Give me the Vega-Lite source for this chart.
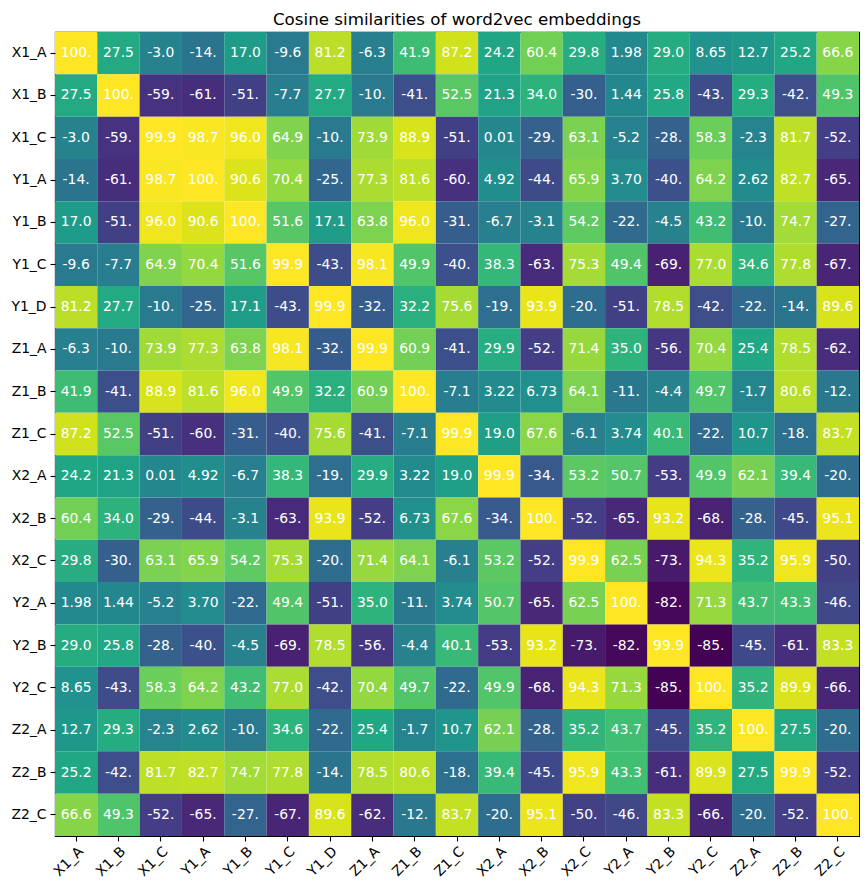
{
"$schema":"https://vega.github.io/schema/vega-lite/v6.json",
"width":804,"height":804,
"autosize":{"type":"none"},
"padding":{"left":55,"top":32,"right":9,"bottom":54},
"background":"white",
"title":{"text":"Cosine similarities of word2vec embeddings","font":"DejaVu Sans","fontSize":16.7,"fontWeight":"normal","color":"black","anchor":"middle","baseline":"alphabetic","frame":"group","offset":7,"dy":17},
"config":{"view":{"stroke":"black","strokeWidth":1.1},"axis":{"labelFont":"DejaVu Sans","labelFontSize":13.9,"labelColor":"black","tickColor":"black","tickSize":5,"tickWidth":1.1,"domain":false,"grid":false,"title":null,"labelPadding":4}},
"data":{"values":[
{"r":"X1_A","c":"X1_A","v":100,"t":"100."},{"r":"X1_A","c":"X1_B","v":27.5,"t":"27.5"},{"r":"X1_A","c":"X1_C","v":-3,"t":"-3.0"},{"r":"X1_A","c":"Y1_A","v":-14,"t":"-14."},{"r":"X1_A","c":"Y1_B","v":17,"t":"17.0"},{"r":"X1_A","c":"Y1_C","v":-9.6,"t":"-9.6"},{"r":"X1_A","c":"Y1_D","v":81.2,"t":"81.2"},{"r":"X1_A","c":"Z1_A","v":-6.3,"t":"-6.3"},{"r":"X1_A","c":"Z1_B","v":41.9,"t":"41.9"},{"r":"X1_A","c":"Z1_C","v":87.2,"t":"87.2"},{"r":"X1_A","c":"X2_A","v":24.2,"t":"24.2"},{"r":"X1_A","c":"X2_B","v":60.4,"t":"60.4"},{"r":"X1_A","c":"X2_C","v":29.8,"t":"29.8"},{"r":"X1_A","c":"Y2_A","v":1.98,"t":"1.98"},{"r":"X1_A","c":"Y2_B","v":29,"t":"29.0"},{"r":"X1_A","c":"Y2_C","v":8.65,"t":"8.65"},{"r":"X1_A","c":"Z2_A","v":12.7,"t":"12.7"},{"r":"X1_A","c":"Z2_B","v":25.2,"t":"25.2"},{"r":"X1_A","c":"Z2_C","v":66.6,"t":"66.6"},
{"r":"X1_B","c":"X1_A","v":27.5,"t":"27.5"},{"r":"X1_B","c":"X1_B","v":100,"t":"100."},{"r":"X1_B","c":"X1_C","v":-59,"t":"-59."},{"r":"X1_B","c":"Y1_A","v":-61,"t":"-61."},{"r":"X1_B","c":"Y1_B","v":-51,"t":"-51."},{"r":"X1_B","c":"Y1_C","v":-7.7,"t":"-7.7"},{"r":"X1_B","c":"Y1_D","v":27.7,"t":"27.7"},{"r":"X1_B","c":"Z1_A","v":-10,"t":"-10."},{"r":"X1_B","c":"Z1_B","v":-41,"t":"-41."},{"r":"X1_B","c":"Z1_C","v":52.5,"t":"52.5"},{"r":"X1_B","c":"X2_A","v":21.3,"t":"21.3"},{"r":"X1_B","c":"X2_B","v":34,"t":"34.0"},{"r":"X1_B","c":"X2_C","v":-30,"t":"-30."},{"r":"X1_B","c":"Y2_A","v":1.44,"t":"1.44"},{"r":"X1_B","c":"Y2_B","v":25.8,"t":"25.8"},{"r":"X1_B","c":"Y2_C","v":-43,"t":"-43."},{"r":"X1_B","c":"Z2_A","v":29.3,"t":"29.3"},{"r":"X1_B","c":"Z2_B","v":-42,"t":"-42."},{"r":"X1_B","c":"Z2_C","v":49.3,"t":"49.3"},
{"r":"X1_C","c":"X1_A","v":-3,"t":"-3.0"},{"r":"X1_C","c":"X1_B","v":-59,"t":"-59."},{"r":"X1_C","c":"X1_C","v":99.9,"t":"99.9"},{"r":"X1_C","c":"Y1_A","v":98.7,"t":"98.7"},{"r":"X1_C","c":"Y1_B","v":96,"t":"96.0"},{"r":"X1_C","c":"Y1_C","v":64.9,"t":"64.9"},{"r":"X1_C","c":"Y1_D","v":-10,"t":"-10."},{"r":"X1_C","c":"Z1_A","v":73.9,"t":"73.9"},{"r":"X1_C","c":"Z1_B","v":88.9,"t":"88.9"},{"r":"X1_C","c":"Z1_C","v":-51,"t":"-51."},{"r":"X1_C","c":"X2_A","v":0.01,"t":"0.01"},{"r":"X1_C","c":"X2_B","v":-29,"t":"-29."},{"r":"X1_C","c":"X2_C","v":63.1,"t":"63.1"},{"r":"X1_C","c":"Y2_A","v":-5.2,"t":"-5.2"},{"r":"X1_C","c":"Y2_B","v":-28,"t":"-28."},{"r":"X1_C","c":"Y2_C","v":58.3,"t":"58.3"},{"r":"X1_C","c":"Z2_A","v":-2.3,"t":"-2.3"},{"r":"X1_C","c":"Z2_B","v":81.7,"t":"81.7"},{"r":"X1_C","c":"Z2_C","v":-52,"t":"-52."},
{"r":"Y1_A","c":"X1_A","v":-14,"t":"-14."},{"r":"Y1_A","c":"X1_B","v":-61,"t":"-61."},{"r":"Y1_A","c":"X1_C","v":98.7,"t":"98.7"},{"r":"Y1_A","c":"Y1_A","v":100,"t":"100."},{"r":"Y1_A","c":"Y1_B","v":90.6,"t":"90.6"},{"r":"Y1_A","c":"Y1_C","v":70.4,"t":"70.4"},{"r":"Y1_A","c":"Y1_D","v":-25,"t":"-25."},{"r":"Y1_A","c":"Z1_A","v":77.3,"t":"77.3"},{"r":"Y1_A","c":"Z1_B","v":81.6,"t":"81.6"},{"r":"Y1_A","c":"Z1_C","v":-60,"t":"-60."},{"r":"Y1_A","c":"X2_A","v":4.92,"t":"4.92"},{"r":"Y1_A","c":"X2_B","v":-44,"t":"-44."},{"r":"Y1_A","c":"X2_C","v":65.9,"t":"65.9"},{"r":"Y1_A","c":"Y2_A","v":3.7,"t":"3.70"},{"r":"Y1_A","c":"Y2_B","v":-40,"t":"-40."},{"r":"Y1_A","c":"Y2_C","v":64.2,"t":"64.2"},{"r":"Y1_A","c":"Z2_A","v":2.62,"t":"2.62"},{"r":"Y1_A","c":"Z2_B","v":82.7,"t":"82.7"},{"r":"Y1_A","c":"Z2_C","v":-65,"t":"-65."},
{"r":"Y1_B","c":"X1_A","v":17,"t":"17.0"},{"r":"Y1_B","c":"X1_B","v":-51,"t":"-51."},{"r":"Y1_B","c":"X1_C","v":96,"t":"96.0"},{"r":"Y1_B","c":"Y1_A","v":90.6,"t":"90.6"},{"r":"Y1_B","c":"Y1_B","v":100,"t":"100."},{"r":"Y1_B","c":"Y1_C","v":51.6,"t":"51.6"},{"r":"Y1_B","c":"Y1_D","v":17.1,"t":"17.1"},{"r":"Y1_B","c":"Z1_A","v":63.8,"t":"63.8"},{"r":"Y1_B","c":"Z1_B","v":96,"t":"96.0"},{"r":"Y1_B","c":"Z1_C","v":-31,"t":"-31."},{"r":"Y1_B","c":"X2_A","v":-6.7,"t":"-6.7"},{"r":"Y1_B","c":"X2_B","v":-3.1,"t":"-3.1"},{"r":"Y1_B","c":"X2_C","v":54.2,"t":"54.2"},{"r":"Y1_B","c":"Y2_A","v":-22,"t":"-22."},{"r":"Y1_B","c":"Y2_B","v":-4.5,"t":"-4.5"},{"r":"Y1_B","c":"Y2_C","v":43.2,"t":"43.2"},{"r":"Y1_B","c":"Z2_A","v":-10,"t":"-10."},{"r":"Y1_B","c":"Z2_B","v":74.7,"t":"74.7"},{"r":"Y1_B","c":"Z2_C","v":-27,"t":"-27."},
{"r":"Y1_C","c":"X1_A","v":-9.6,"t":"-9.6"},{"r":"Y1_C","c":"X1_B","v":-7.7,"t":"-7.7"},{"r":"Y1_C","c":"X1_C","v":64.9,"t":"64.9"},{"r":"Y1_C","c":"Y1_A","v":70.4,"t":"70.4"},{"r":"Y1_C","c":"Y1_B","v":51.6,"t":"51.6"},{"r":"Y1_C","c":"Y1_C","v":99.9,"t":"99.9"},{"r":"Y1_C","c":"Y1_D","v":-43,"t":"-43."},{"r":"Y1_C","c":"Z1_A","v":98.1,"t":"98.1"},{"r":"Y1_C","c":"Z1_B","v":49.9,"t":"49.9"},{"r":"Y1_C","c":"Z1_C","v":-40,"t":"-40."},{"r":"Y1_C","c":"X2_A","v":38.3,"t":"38.3"},{"r":"Y1_C","c":"X2_B","v":-63,"t":"-63."},{"r":"Y1_C","c":"X2_C","v":75.3,"t":"75.3"},{"r":"Y1_C","c":"Y2_A","v":49.4,"t":"49.4"},{"r":"Y1_C","c":"Y2_B","v":-69,"t":"-69."},{"r":"Y1_C","c":"Y2_C","v":77,"t":"77.0"},{"r":"Y1_C","c":"Z2_A","v":34.6,"t":"34.6"},{"r":"Y1_C","c":"Z2_B","v":77.8,"t":"77.8"},{"r":"Y1_C","c":"Z2_C","v":-67,"t":"-67."},
{"r":"Y1_D","c":"X1_A","v":81.2,"t":"81.2"},{"r":"Y1_D","c":"X1_B","v":27.7,"t":"27.7"},{"r":"Y1_D","c":"X1_C","v":-10,"t":"-10."},{"r":"Y1_D","c":"Y1_A","v":-25,"t":"-25."},{"r":"Y1_D","c":"Y1_B","v":17.1,"t":"17.1"},{"r":"Y1_D","c":"Y1_C","v":-43,"t":"-43."},{"r":"Y1_D","c":"Y1_D","v":99.9,"t":"99.9"},{"r":"Y1_D","c":"Z1_A","v":-32,"t":"-32."},{"r":"Y1_D","c":"Z1_B","v":32.2,"t":"32.2"},{"r":"Y1_D","c":"Z1_C","v":75.6,"t":"75.6"},{"r":"Y1_D","c":"X2_A","v":-19,"t":"-19."},{"r":"Y1_D","c":"X2_B","v":93.9,"t":"93.9"},{"r":"Y1_D","c":"X2_C","v":-20,"t":"-20."},{"r":"Y1_D","c":"Y2_A","v":-51,"t":"-51."},{"r":"Y1_D","c":"Y2_B","v":78.5,"t":"78.5"},{"r":"Y1_D","c":"Y2_C","v":-42,"t":"-42."},{"r":"Y1_D","c":"Z2_A","v":-22,"t":"-22."},{"r":"Y1_D","c":"Z2_B","v":-14,"t":"-14."},{"r":"Y1_D","c":"Z2_C","v":89.6,"t":"89.6"},
{"r":"Z1_A","c":"X1_A","v":-6.3,"t":"-6.3"},{"r":"Z1_A","c":"X1_B","v":-10,"t":"-10."},{"r":"Z1_A","c":"X1_C","v":73.9,"t":"73.9"},{"r":"Z1_A","c":"Y1_A","v":77.3,"t":"77.3"},{"r":"Z1_A","c":"Y1_B","v":63.8,"t":"63.8"},{"r":"Z1_A","c":"Y1_C","v":98.1,"t":"98.1"},{"r":"Z1_A","c":"Y1_D","v":-32,"t":"-32."},{"r":"Z1_A","c":"Z1_A","v":99.9,"t":"99.9"},{"r":"Z1_A","c":"Z1_B","v":60.9,"t":"60.9"},{"r":"Z1_A","c":"Z1_C","v":-41,"t":"-41."},{"r":"Z1_A","c":"X2_A","v":29.9,"t":"29.9"},{"r":"Z1_A","c":"X2_B","v":-52,"t":"-52."},{"r":"Z1_A","c":"X2_C","v":71.4,"t":"71.4"},{"r":"Z1_A","c":"Y2_A","v":35,"t":"35.0"},{"r":"Z1_A","c":"Y2_B","v":-56,"t":"-56."},{"r":"Z1_A","c":"Y2_C","v":70.4,"t":"70.4"},{"r":"Z1_A","c":"Z2_A","v":25.4,"t":"25.4"},{"r":"Z1_A","c":"Z2_B","v":78.5,"t":"78.5"},{"r":"Z1_A","c":"Z2_C","v":-62,"t":"-62."},
{"r":"Z1_B","c":"X1_A","v":41.9,"t":"41.9"},{"r":"Z1_B","c":"X1_B","v":-41,"t":"-41."},{"r":"Z1_B","c":"X1_C","v":88.9,"t":"88.9"},{"r":"Z1_B","c":"Y1_A","v":81.6,"t":"81.6"},{"r":"Z1_B","c":"Y1_B","v":96,"t":"96.0"},{"r":"Z1_B","c":"Y1_C","v":49.9,"t":"49.9"},{"r":"Z1_B","c":"Y1_D","v":32.2,"t":"32.2"},{"r":"Z1_B","c":"Z1_A","v":60.9,"t":"60.9"},{"r":"Z1_B","c":"Z1_B","v":100,"t":"100."},{"r":"Z1_B","c":"Z1_C","v":-7.1,"t":"-7.1"},{"r":"Z1_B","c":"X2_A","v":3.22,"t":"3.22"},{"r":"Z1_B","c":"X2_B","v":6.73,"t":"6.73"},{"r":"Z1_B","c":"X2_C","v":64.1,"t":"64.1"},{"r":"Z1_B","c":"Y2_A","v":-11,"t":"-11."},{"r":"Z1_B","c":"Y2_B","v":-4.4,"t":"-4.4"},{"r":"Z1_B","c":"Y2_C","v":49.7,"t":"49.7"},{"r":"Z1_B","c":"Z2_A","v":-1.7,"t":"-1.7"},{"r":"Z1_B","c":"Z2_B","v":80.6,"t":"80.6"},{"r":"Z1_B","c":"Z2_C","v":-12,"t":"-12."},
{"r":"Z1_C","c":"X1_A","v":87.2,"t":"87.2"},{"r":"Z1_C","c":"X1_B","v":52.5,"t":"52.5"},{"r":"Z1_C","c":"X1_C","v":-51,"t":"-51."},{"r":"Z1_C","c":"Y1_A","v":-60,"t":"-60."},{"r":"Z1_C","c":"Y1_B","v":-31,"t":"-31."},{"r":"Z1_C","c":"Y1_C","v":-40,"t":"-40."},{"r":"Z1_C","c":"Y1_D","v":75.6,"t":"75.6"},{"r":"Z1_C","c":"Z1_A","v":-41,"t":"-41."},{"r":"Z1_C","c":"Z1_B","v":-7.1,"t":"-7.1"},{"r":"Z1_C","c":"Z1_C","v":99.9,"t":"99.9"},{"r":"Z1_C","c":"X2_A","v":19,"t":"19.0"},{"r":"Z1_C","c":"X2_B","v":67.6,"t":"67.6"},{"r":"Z1_C","c":"X2_C","v":-6.1,"t":"-6.1"},{"r":"Z1_C","c":"Y2_A","v":3.74,"t":"3.74"},{"r":"Z1_C","c":"Y2_B","v":40.1,"t":"40.1"},{"r":"Z1_C","c":"Y2_C","v":-22,"t":"-22."},{"r":"Z1_C","c":"Z2_A","v":10.7,"t":"10.7"},{"r":"Z1_C","c":"Z2_B","v":-18,"t":"-18."},{"r":"Z1_C","c":"Z2_C","v":83.7,"t":"83.7"},
{"r":"X2_A","c":"X1_A","v":24.2,"t":"24.2"},{"r":"X2_A","c":"X1_B","v":21.3,"t":"21.3"},{"r":"X2_A","c":"X1_C","v":0.01,"t":"0.01"},{"r":"X2_A","c":"Y1_A","v":4.92,"t":"4.92"},{"r":"X2_A","c":"Y1_B","v":-6.7,"t":"-6.7"},{"r":"X2_A","c":"Y1_C","v":38.3,"t":"38.3"},{"r":"X2_A","c":"Y1_D","v":-19,"t":"-19."},{"r":"X2_A","c":"Z1_A","v":29.9,"t":"29.9"},{"r":"X2_A","c":"Z1_B","v":3.22,"t":"3.22"},{"r":"X2_A","c":"Z1_C","v":19,"t":"19.0"},{"r":"X2_A","c":"X2_A","v":99.9,"t":"99.9"},{"r":"X2_A","c":"X2_B","v":-34,"t":"-34."},{"r":"X2_A","c":"X2_C","v":53.2,"t":"53.2"},{"r":"X2_A","c":"Y2_A","v":50.7,"t":"50.7"},{"r":"X2_A","c":"Y2_B","v":-53,"t":"-53."},{"r":"X2_A","c":"Y2_C","v":49.9,"t":"49.9"},{"r":"X2_A","c":"Z2_A","v":62.1,"t":"62.1"},{"r":"X2_A","c":"Z2_B","v":39.4,"t":"39.4"},{"r":"X2_A","c":"Z2_C","v":-20,"t":"-20."},
{"r":"X2_B","c":"X1_A","v":60.4,"t":"60.4"},{"r":"X2_B","c":"X1_B","v":34,"t":"34.0"},{"r":"X2_B","c":"X1_C","v":-29,"t":"-29."},{"r":"X2_B","c":"Y1_A","v":-44,"t":"-44."},{"r":"X2_B","c":"Y1_B","v":-3.1,"t":"-3.1"},{"r":"X2_B","c":"Y1_C","v":-63,"t":"-63."},{"r":"X2_B","c":"Y1_D","v":93.9,"t":"93.9"},{"r":"X2_B","c":"Z1_A","v":-52,"t":"-52."},{"r":"X2_B","c":"Z1_B","v":6.73,"t":"6.73"},{"r":"X2_B","c":"Z1_C","v":67.6,"t":"67.6"},{"r":"X2_B","c":"X2_A","v":-34,"t":"-34."},{"r":"X2_B","c":"X2_B","v":100,"t":"100."},{"r":"X2_B","c":"X2_C","v":-52,"t":"-52."},{"r":"X2_B","c":"Y2_A","v":-65,"t":"-65."},{"r":"X2_B","c":"Y2_B","v":93.2,"t":"93.2"},{"r":"X2_B","c":"Y2_C","v":-68,"t":"-68."},{"r":"X2_B","c":"Z2_A","v":-28,"t":"-28."},{"r":"X2_B","c":"Z2_B","v":-45,"t":"-45."},{"r":"X2_B","c":"Z2_C","v":95.1,"t":"95.1"},
{"r":"X2_C","c":"X1_A","v":29.8,"t":"29.8"},{"r":"X2_C","c":"X1_B","v":-30,"t":"-30."},{"r":"X2_C","c":"X1_C","v":63.1,"t":"63.1"},{"r":"X2_C","c":"Y1_A","v":65.9,"t":"65.9"},{"r":"X2_C","c":"Y1_B","v":54.2,"t":"54.2"},{"r":"X2_C","c":"Y1_C","v":75.3,"t":"75.3"},{"r":"X2_C","c":"Y1_D","v":-20,"t":"-20."},{"r":"X2_C","c":"Z1_A","v":71.4,"t":"71.4"},{"r":"X2_C","c":"Z1_B","v":64.1,"t":"64.1"},{"r":"X2_C","c":"Z1_C","v":-6.1,"t":"-6.1"},{"r":"X2_C","c":"X2_A","v":53.2,"t":"53.2"},{"r":"X2_C","c":"X2_B","v":-52,"t":"-52."},{"r":"X2_C","c":"X2_C","v":99.9,"t":"99.9"},{"r":"X2_C","c":"Y2_A","v":62.5,"t":"62.5"},{"r":"X2_C","c":"Y2_B","v":-73,"t":"-73."},{"r":"X2_C","c":"Y2_C","v":94.3,"t":"94.3"},{"r":"X2_C","c":"Z2_A","v":35.2,"t":"35.2"},{"r":"X2_C","c":"Z2_B","v":95.9,"t":"95.9"},{"r":"X2_C","c":"Z2_C","v":-50,"t":"-50."},
{"r":"Y2_A","c":"X1_A","v":1.98,"t":"1.98"},{"r":"Y2_A","c":"X1_B","v":1.44,"t":"1.44"},{"r":"Y2_A","c":"X1_C","v":-5.2,"t":"-5.2"},{"r":"Y2_A","c":"Y1_A","v":3.7,"t":"3.70"},{"r":"Y2_A","c":"Y1_B","v":-22,"t":"-22."},{"r":"Y2_A","c":"Y1_C","v":49.4,"t":"49.4"},{"r":"Y2_A","c":"Y1_D","v":-51,"t":"-51."},{"r":"Y2_A","c":"Z1_A","v":35,"t":"35.0"},{"r":"Y2_A","c":"Z1_B","v":-11,"t":"-11."},{"r":"Y2_A","c":"Z1_C","v":3.74,"t":"3.74"},{"r":"Y2_A","c":"X2_A","v":50.7,"t":"50.7"},{"r":"Y2_A","c":"X2_B","v":-65,"t":"-65."},{"r":"Y2_A","c":"X2_C","v":62.5,"t":"62.5"},{"r":"Y2_A","c":"Y2_A","v":100,"t":"100."},{"r":"Y2_A","c":"Y2_B","v":-82,"t":"-82."},{"r":"Y2_A","c":"Y2_C","v":71.3,"t":"71.3"},{"r":"Y2_A","c":"Z2_A","v":43.7,"t":"43.7"},{"r":"Y2_A","c":"Z2_B","v":43.3,"t":"43.3"},{"r":"Y2_A","c":"Z2_C","v":-46,"t":"-46."},
{"r":"Y2_B","c":"X1_A","v":29,"t":"29.0"},{"r":"Y2_B","c":"X1_B","v":25.8,"t":"25.8"},{"r":"Y2_B","c":"X1_C","v":-28,"t":"-28."},{"r":"Y2_B","c":"Y1_A","v":-40,"t":"-40."},{"r":"Y2_B","c":"Y1_B","v":-4.5,"t":"-4.5"},{"r":"Y2_B","c":"Y1_C","v":-69,"t":"-69."},{"r":"Y2_B","c":"Y1_D","v":78.5,"t":"78.5"},{"r":"Y2_B","c":"Z1_A","v":-56,"t":"-56."},{"r":"Y2_B","c":"Z1_B","v":-4.4,"t":"-4.4"},{"r":"Y2_B","c":"Z1_C","v":40.1,"t":"40.1"},{"r":"Y2_B","c":"X2_A","v":-53,"t":"-53."},{"r":"Y2_B","c":"X2_B","v":93.2,"t":"93.2"},{"r":"Y2_B","c":"X2_C","v":-73,"t":"-73."},{"r":"Y2_B","c":"Y2_A","v":-82,"t":"-82."},{"r":"Y2_B","c":"Y2_B","v":99.9,"t":"99.9"},{"r":"Y2_B","c":"Y2_C","v":-85,"t":"-85."},{"r":"Y2_B","c":"Z2_A","v":-45,"t":"-45."},{"r":"Y2_B","c":"Z2_B","v":-61,"t":"-61."},{"r":"Y2_B","c":"Z2_C","v":83.3,"t":"83.3"},
{"r":"Y2_C","c":"X1_A","v":8.65,"t":"8.65"},{"r":"Y2_C","c":"X1_B","v":-43,"t":"-43."},{"r":"Y2_C","c":"X1_C","v":58.3,"t":"58.3"},{"r":"Y2_C","c":"Y1_A","v":64.2,"t":"64.2"},{"r":"Y2_C","c":"Y1_B","v":43.2,"t":"43.2"},{"r":"Y2_C","c":"Y1_C","v":77,"t":"77.0"},{"r":"Y2_C","c":"Y1_D","v":-42,"t":"-42."},{"r":"Y2_C","c":"Z1_A","v":70.4,"t":"70.4"},{"r":"Y2_C","c":"Z1_B","v":49.7,"t":"49.7"},{"r":"Y2_C","c":"Z1_C","v":-22,"t":"-22."},{"r":"Y2_C","c":"X2_A","v":49.9,"t":"49.9"},{"r":"Y2_C","c":"X2_B","v":-68,"t":"-68."},{"r":"Y2_C","c":"X2_C","v":94.3,"t":"94.3"},{"r":"Y2_C","c":"Y2_A","v":71.3,"t":"71.3"},{"r":"Y2_C","c":"Y2_B","v":-85,"t":"-85."},{"r":"Y2_C","c":"Y2_C","v":100,"t":"100."},{"r":"Y2_C","c":"Z2_A","v":35.2,"t":"35.2"},{"r":"Y2_C","c":"Z2_B","v":89.9,"t":"89.9"},{"r":"Y2_C","c":"Z2_C","v":-66,"t":"-66."},
{"r":"Z2_A","c":"X1_A","v":12.7,"t":"12.7"},{"r":"Z2_A","c":"X1_B","v":29.3,"t":"29.3"},{"r":"Z2_A","c":"X1_C","v":-2.3,"t":"-2.3"},{"r":"Z2_A","c":"Y1_A","v":2.62,"t":"2.62"},{"r":"Z2_A","c":"Y1_B","v":-10,"t":"-10."},{"r":"Z2_A","c":"Y1_C","v":34.6,"t":"34.6"},{"r":"Z2_A","c":"Y1_D","v":-22,"t":"-22."},{"r":"Z2_A","c":"Z1_A","v":25.4,"t":"25.4"},{"r":"Z2_A","c":"Z1_B","v":-1.7,"t":"-1.7"},{"r":"Z2_A","c":"Z1_C","v":10.7,"t":"10.7"},{"r":"Z2_A","c":"X2_A","v":62.1,"t":"62.1"},{"r":"Z2_A","c":"X2_B","v":-28,"t":"-28."},{"r":"Z2_A","c":"X2_C","v":35.2,"t":"35.2"},{"r":"Z2_A","c":"Y2_A","v":43.7,"t":"43.7"},{"r":"Z2_A","c":"Y2_B","v":-45,"t":"-45."},{"r":"Z2_A","c":"Y2_C","v":35.2,"t":"35.2"},{"r":"Z2_A","c":"Z2_A","v":100,"t":"100."},{"r":"Z2_A","c":"Z2_B","v":27.5,"t":"27.5"},{"r":"Z2_A","c":"Z2_C","v":-20,"t":"-20."},
{"r":"Z2_B","c":"X1_A","v":25.2,"t":"25.2"},{"r":"Z2_B","c":"X1_B","v":-42,"t":"-42."},{"r":"Z2_B","c":"X1_C","v":81.7,"t":"81.7"},{"r":"Z2_B","c":"Y1_A","v":82.7,"t":"82.7"},{"r":"Z2_B","c":"Y1_B","v":74.7,"t":"74.7"},{"r":"Z2_B","c":"Y1_C","v":77.8,"t":"77.8"},{"r":"Z2_B","c":"Y1_D","v":-14,"t":"-14."},{"r":"Z2_B","c":"Z1_A","v":78.5,"t":"78.5"},{"r":"Z2_B","c":"Z1_B","v":80.6,"t":"80.6"},{"r":"Z2_B","c":"Z1_C","v":-18,"t":"-18."},{"r":"Z2_B","c":"X2_A","v":39.4,"t":"39.4"},{"r":"Z2_B","c":"X2_B","v":-45,"t":"-45."},{"r":"Z2_B","c":"X2_C","v":95.9,"t":"95.9"},{"r":"Z2_B","c":"Y2_A","v":43.3,"t":"43.3"},{"r":"Z2_B","c":"Y2_B","v":-61,"t":"-61."},{"r":"Z2_B","c":"Y2_C","v":89.9,"t":"89.9"},{"r":"Z2_B","c":"Z2_A","v":27.5,"t":"27.5"},{"r":"Z2_B","c":"Z2_B","v":99.9,"t":"99.9"},{"r":"Z2_B","c":"Z2_C","v":-52,"t":"-52."},
{"r":"Z2_C","c":"X1_A","v":66.6,"t":"66.6"},{"r":"Z2_C","c":"X1_B","v":49.3,"t":"49.3"},{"r":"Z2_C","c":"X1_C","v":-52,"t":"-52."},{"r":"Z2_C","c":"Y1_A","v":-65,"t":"-65."},{"r":"Z2_C","c":"Y1_B","v":-27,"t":"-27."},{"r":"Z2_C","c":"Y1_C","v":-67,"t":"-67."},{"r":"Z2_C","c":"Y1_D","v":89.6,"t":"89.6"},{"r":"Z2_C","c":"Z1_A","v":-62,"t":"-62."},{"r":"Z2_C","c":"Z1_B","v":-12,"t":"-12."},{"r":"Z2_C","c":"Z1_C","v":83.7,"t":"83.7"},{"r":"Z2_C","c":"X2_A","v":-20,"t":"-20."},{"r":"Z2_C","c":"X2_B","v":95.1,"t":"95.1"},{"r":"Z2_C","c":"X2_C","v":-50,"t":"-50."},{"r":"Z2_C","c":"Y2_A","v":-46,"t":"-46."},{"r":"Z2_C","c":"Y2_B","v":83.3,"t":"83.3"},{"r":"Z2_C","c":"Y2_C","v":-66,"t":"-66."},{"r":"Z2_C","c":"Z2_A","v":-20,"t":"-20."},{"r":"Z2_C","c":"Z2_B","v":-52,"t":"-52."},{"r":"Z2_C","c":"Z2_C","v":100,"t":"100."}
]},
"encoding":{
"x":{"field":"c","type":"nominal","sort":["X1_A","X1_B","X1_C","Y1_A","Y1_B","Y1_C","Y1_D","Z1_A","Z1_B","Z1_C","X2_A","X2_B","X2_C","Y2_A","Y2_B","Y2_C","Z2_A","Z2_B","Z2_C"],"axis":{"labelAngle":-45,"labelAlign":"right","labelBaseline":"top","labelPadding":3}},
"y":{"field":"r","type":"nominal","sort":["X1_A","X1_B","X1_C","Y1_A","Y1_B","Y1_C","Y1_D","Z1_A","Z1_B","Z1_C","X2_A","X2_B","X2_C","Y2_A","Y2_B","Y2_C","Z2_A","Z2_B","Z2_C"]}
},
"layer":[
{"mark":{"type":"rect"},"encoding":{"color":{"field":"v","type":"quantitative","scale":{"scheme":"viridis","domain":[-85.3,100]},"legend":null}}},
{"mark":{"type":"text","color":"white","font":"DejaVu Sans","fontSize":13.9,"baseline":"middle","align":"center"},"encoding":{"text":{"field":"t","type":"nominal"}}}
]
}
